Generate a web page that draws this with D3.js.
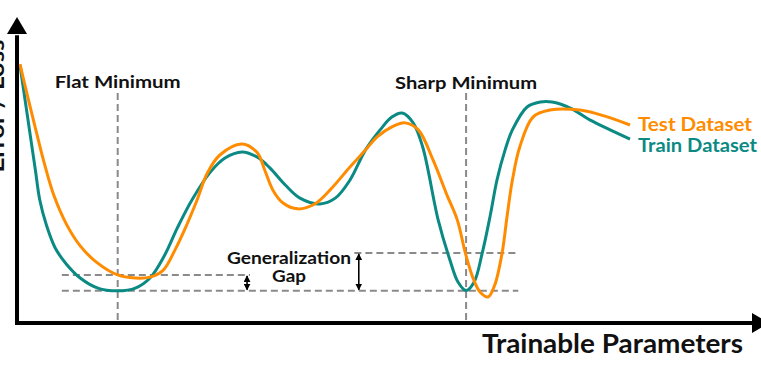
<!DOCTYPE html>
<html>
<head>
<meta charset="utf-8">
<script src="https://cdn.jsdelivr.net/npm/d3@7"></script>
<style>
    body { margin: 0; background: #fff; }
    svg { display: block; }
    text { font-family: "Lato", "DejaVu Sans", sans-serif; font-weight: 700; }
</style>
</head>
<body>
<div class="chart"></div>
<script>
// train curve (teal) - parameter position / loss
const trainX = [0.4, 1.1, 1.8, 2.5, 3.1, 4.0, 5.2, 6.7, 8.6, 11.0, 13.7, 16.1, 18.1, 20.1, 21.8, 23.8, 26.3, 28.3, 30.6,
    32.7, 34.4, 36.5, 38.5, 41.2, 43.3, 45.3, 47.4, 49.4, 51.0, 52.4, 53.9, 55.2, 57.3, 58.9, 60.0, 61.1,
    62.2, 63.3, 64.4, 65.3, 66.4, 67.4, 69.4, 71.2, 72.8, 75.2, 78.0, 80.7, 83.4]
const trainLoss = [84.3, 72.9, 61.4, 50.0, 40.2, 32.0, 24.5, 19.3, 14.7, 11.4, 10.5, 11.4, 14.7, 22.2, 31.0, 40.2, 49.3, 53.9, 55.9,
    54.2, 50.7, 45.1, 40.8, 38.9, 40.8, 46.7, 56.5, 63.1, 67.3, 68.6, 65.4, 57.5, 33.7, 20.6, 13.4, 10.6,
    13.4, 22.9, 35.3, 46.7, 56.5, 63.1, 70.6, 72.2, 72.2, 70.3, 66.3, 63.1, 60.1]

// test curve (orange)
const testX = [0.4, 1.4, 2.5, 3.7, 5.0, 6.7, 8.6, 10.8, 13.7, 16.1, 18.1, 19.9, 21.5, 22.9, 24.5, 25.9, 27.6, 30.6,
    32.7, 33.7, 34.8, 36.2, 38.2, 40.5, 42.6, 45.3, 47.4, 49.0, 51.0, 52.8, 54.6, 56.6, 58.5, 59.9, 61.0,
    62.0, 63.0, 64.1, 65.0, 66.0, 66.7, 67.4, 68.4, 70.2, 72.5, 76.6, 80.0, 83.4]
const testLoss = [84.6, 74.5, 63.7, 52.3, 41.8, 32.4, 25.2, 19.9, 15.7, 14.7, 15.0, 17.3, 23.9, 31.0, 40.2, 49.0, 54.9, 58.5,
    55.6, 50.0, 43.5, 39.2, 37.3, 38.9, 43.5, 51.0, 56.5, 60.8, 64.1, 65.4, 63.1, 53.3, 41.8, 33.7, 22.9,
    15.0, 10.1, 8.5, 12.4, 22.9, 35.3, 46.7, 57.5, 67.3, 69.6, 69.6, 67.6, 64.7]

const seriesNames = ['Test Dataset', 'Train Dataset']
const seriesColors = ['#ff8c00', '#0b8a84']

// minimum markers
const minNames = ['Flat Minimum', 'Sharp Minimum']
const minX = [13.7, 61.1]
// gap levels: [low, high, line start, line end, arrow x]
const flatGap = [10.5, 15.7, 6.1, 31.7, 31.3]
const sharpGap = [10.5, 22.9, 45.9, 68.2, 46.5]
const lowLineEnd = 68.2

const xTitle = 'Trainable Parameters'
const yTitle = 'Error / Loss'
const gapTitle = ['Generalization', 'Gap']

const width = 761,
    height = 381

const x = d3.scaleLinear().domain([0, 100]).range([17, 752])
const y = d3.scaleLinear().domain([0, 100]).range([323, 17])

const svg = d3.select('.chart').append('svg')
    .attr('width', width)
    .attr('height', height)

const defs = svg.append('defs')
defs.append('marker')
    .attr('id', 'tip')
    .attr('viewBox', '0 0 10 10')
    .attr('refX', 9)
    .attr('refY', 5)
    .attr('markerWidth', 7)
    .attr('markerHeight', 7)
    .attr('markerUnits', 'userSpaceOnUse')
    .attr('orient', 'auto-start-reverse')
    .append('path')
    .attr('d', 'M0,0 L10,5 L0,10 z')
    .style('fill', '#000')

const dashColor = '#8a8a8a'
const dash = '7,4'

// vertical dashed lines at the minima
svg.selectAll('.vline')
    .data(minX)
    .enter().append('line')
    .attr('class', 'vline')
    .attr('x1', d => x(d)).attr('x2', d => x(d))
    .attr('y1', y(75.2)).attr('y2', y(0))
    .style('stroke', dashColor)
    .style('stroke-width', 2)
    .style('stroke-dasharray', dash)

// horizontal dashed levels
const hLines = [
    [flatGap[1], flatGap[2], flatGap[3]],
    [flatGap[0], flatGap[2], lowLineEnd],
    [sharpGap[1], sharpGap[2], sharpGap[3]]
]
svg.selectAll('.hline')
    .data(hLines)
    .enter().append('line')
    .attr('class', 'hline')
    .attr('x1', d => x(d[1])).attr('x2', d => x(d[2]))
    .attr('y1', d => y(d[0])).attr('y2', d => y(d[0]))
    .style('stroke', dashColor)
    .style('stroke-width', 2)
    .style('stroke-dasharray', dash)

// double arrows for the gaps
svg.selectAll('.gap')
    .data([flatGap, sharpGap])
    .enter().append('line')
    .attr('class', 'gap')
    .attr('x1', d => x(d[4])).attr('x2', d => x(d[4]))
    .attr('y1', d => y(d[0]) - 1).attr('y2', d => y(d[1]) + 1)
    .attr('marker-start', 'url(#tip)')
    .attr('marker-end', 'url(#tip)')
    .style('stroke', '#000')
    .style('stroke-width', 1.6)

// curves
const line = d3.line()
    .x(d => x(d[0]))
    .y(d => y(d[1]))
    .curve(d3.curveCatmullRom.alpha(0.5))

const trainData = trainX.map((v, i) => [v, trainLoss[i]])
const testData = testX.map((v, i) => [v, testLoss[i]])

svg.append('path')
    .datum(trainData)
    .attr('d', line)
    .style('fill', 'none')
    .style('stroke', seriesColors[1])
    .style('stroke-width', 3)

svg.append('path')
    .datum(testData)
    .attr('d', line)
    .style('fill', 'none')
    .style('stroke', seriesColors[0])
    .style('stroke-width', 3)

// axes with arrow heads
svg.append('line')
    .attr('x1', x(0)).attr('x2', x(100))
    .attr('y1', y(0)).attr('y2', y(0))
    .style('stroke', '#000').style('stroke-width', 4)
svg.append('line')
    .attr('x1', x(0)).attr('x2', x(0))
    .attr('y1', y(0) + 2).attr('y2', y(94))
    .style('stroke', '#000').style('stroke-width', 4)
svg.append('path')
    .attr('d', `M${x(0)},${y(100)} L${x(0) + 10},${y(100) + 17} L${x(0) - 10},${y(100) + 17} z`)
    .style('fill', '#000')
svg.append('path')
    .attr('d', `M${x(100) + 17},${y(0)} L${x(100)},${y(0) - 10} L${x(100)},${y(0) + 10} z`)
    .style('fill', '#000')

// text labels
svg.selectAll('.minLabel')
    .data(minNames)
    .enter().append('text')
    .attr('class', 'minLabel')
    .attr('x', (d, i) => x(minX[i]))
    .attr('y', (d, i) => [88, 89][i])
    .attr('text-anchor', 'middle')
    .attr('textLength', (d, i) => [126, 142][i])
    .attr('lengthAdjust', 'spacingAndGlyphs')
    .style('font-size', '17px')
    .style('fill', '#111')
    .text(d => d)

svg.selectAll('.legend')
    .data(seriesNames)
    .enter().append('text')
    .attr('class', 'legend')
    .attr('x', 638)
    .attr('y', (d, i) => 131 + i * 21)
    .attr('textLength', (d, i) => [114, 119][i])
    .attr('lengthAdjust', 'spacingAndGlyphs')
    .style('font-size', '19px')
    .style('fill', (d, i) => seriesColors[i])
    .text(d => d)

svg.selectAll('.gapLabel')
    .data(gapTitle)
    .enter().append('text')
    .attr('class', 'gapLabel')
    .attr('x', 289)
    .attr('y', (d, i) => 264 + i * 18)
    .attr('text-anchor', 'middle')
    .attr('textLength', (d, i) => [124, 34][i])
    .attr('lengthAdjust', 'spacingAndGlyphs')
    .style('font-size', '17px')
    .style('fill', '#111')
    .text(d => d)

svg.append('text')
    .attr('x', 482)
    .attr('y', 353)
    .attr('textLength', 261)
    .attr('lengthAdjust', 'spacingAndGlyphs')
    .style('font-size', '27px')
    .style('fill', '#111')
    .text(xTitle)

svg.append('text')
    .attr('transform', 'translate(4,106) rotate(-90)')
    .attr('text-anchor', 'middle')
    .attr('textLength', 133)
    .attr('lengthAdjust', 'spacingAndGlyphs')
    .style('font-size', '23px')
    .style('fill', '#111')
    .text(yTitle)
</script>
</body>
</html>
